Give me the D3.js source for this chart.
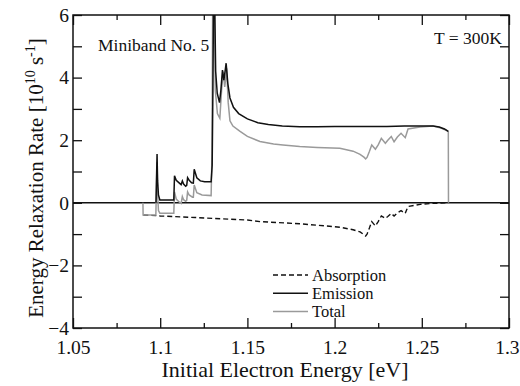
<!DOCTYPE html>
<html><head><meta charset="utf-8">
<script src="https://cdn.jsdelivr.net/npm/d3@7"></script>
<style>
html,body{margin:0;padding:0;background:#fff;}
</style></head>
<body><svg id="c" width="520" height="386"></svg>
<script>
// ---- data (energy in eV, rate in 1e10 s^-1) ----
const xMajorTicks = [1.05, 1.1, 1.15, 1.2, 1.25, 1.3];
const xTickLabels = ["1.05", "1.1", "1.15", "1.2", "1.25", "1.3"];
const xMinorTicks = [1.075, 1.125, 1.175, 1.225, 1.275];
const yMajorTicks = [-4, -2, 0, 2, 4, 6];
const yMinorTicks = [-3, -1, 1, 3, 5];
const legendLabels = ["Absorption", "Emission", "Total"];

const emission = [
[1.0976,0],[1.0979,0.8],[1.0982,1.56],[1.0985,0.7],[1.0990,0.25],[1.0998,0.09],
[1.1078,0.09],[1.1082,0.86],[1.1092,0.72],[1.1110,0.63],[1.1120,0.58],[1.1127,0.70],[1.1134,0.6],
[1.1146,0.53],[1.1152,0.56],[1.1157,0.80],[1.1166,0.72],[1.1180,0.64],[1.1190,0.63],[1.1195,1.07],
[1.1210,0.80],[1.1230,0.70],[1.1255,0.67],[1.1292,0.67],[1.1298,1.2],[1.1302,3.5],[1.1306,6.6],
[1.1312,6.6],[1.1318,4.2],[1.1327,3.5],[1.1340,3.2],[1.1348,3.6],[1.1357,4.24],[1.1365,3.92],
[1.1372,4.2],[1.1378,4.46],[1.1388,3.8],[1.1400,3.35],[1.1420,3.05],[1.1450,2.85],[1.1500,2.68],
[1.1560,2.56],[1.1620,2.50],[1.1700,2.45],[1.1800,2.43],[1.1900,2.43],[1.2000,2.44],[1.2100,2.44],
[1.2200,2.44],[1.2300,2.44],[1.2400,2.45],[1.2500,2.45],[1.2565,2.45],[1.2600,2.42],[1.2630,2.36],[1.2652,2.28]
];

const total = [
[1.0901,0],[1.0902,-0.39],[1.0975,-0.39],[1.0979,0.6],[1.0982,1.3],[1.0986,0.2],[1.0990,-0.25],
[1.0998,-0.33],[1.1078,-0.33],[1.1082,0.35],[1.1092,0.12],[1.1110,0.02],[1.1120,-0.02],[1.1127,0.20],
[1.1134,0.1],[1.1146,0.05],[1.1152,0.08],[1.1157,0.35],[1.1166,0.25],[1.1185,0.18],[1.1190,0.18],
[1.1195,0.57],[1.1210,0.32],[1.1240,0.25],[1.1292,0.23],[1.1297,1.6],[1.1301,6.6],[1.1310,6.6],
[1.1316,3.6],[1.1328,2.85],[1.1342,2.7],[1.1352,3.6],[1.1361,4.19],[1.1370,3.7],[1.1376,4.0],
[1.1381,4.3],[1.1390,3.2],[1.1400,2.62],[1.1417,2.45],[1.1458,2.28],[1.1500,2.12],[1.1572,1.96],
[1.1650,1.88],[1.1704,1.85],[1.1800,1.80],[1.1900,1.77],[1.2030,1.74],[1.2106,1.65],[1.2146,1.55],
[1.2170,1.45],[1.2178,1.40],[1.2186,1.45],[1.2200,1.65],[1.2213,1.85],[1.2234,1.71],[1.2250,1.85],
[1.2268,2.06],[1.2291,1.90],[1.2305,2.0],[1.2325,2.12],[1.2341,1.95],[1.2360,2.1],[1.2381,2.22],
[1.2405,2.08],[1.2412,2.20],[1.2421,2.36],[1.2490,2.42],[1.2564,2.45],[1.2604,2.40],[1.2639,2.32],
[1.2652,2.27],[1.2653,0]
];

const absorption = [
[1.0903,-0.39],[1.0982,-0.41],[1.1000,-0.42],[1.1200,-0.47],[1.1500,-0.55],[1.1572,-0.60],
[1.1800,-0.67],[1.1950,-0.74],[1.2031,-0.78],[1.2106,-0.86],[1.2146,-0.93],[1.2178,-1.06],
[1.2186,-1.0],[1.2200,-0.8],[1.2213,-0.60],[1.2234,-0.74],[1.2250,-0.6],[1.2268,-0.42],
[1.2291,-0.50],[1.2305,-0.44],[1.2325,-0.34],[1.2341,-0.42],[1.2360,-0.32],[1.2381,-0.25],
[1.2405,-0.34],[1.2412,-0.24],[1.2421,-0.12],[1.2490,-0.05],[1.2560,-0.02],[1.2652,0]
];

// ---- layout ----
const FONT = "'Liberation Serif', 'DejaVu Serif', 'Times New Roman', serif";
const svg = d3.select("#c").attr("font-family", FONT);
const L = 73, R = 509, T = 15, B = 328;
const x = d3.scaleLinear().domain([1.05, 1.3]).range([L, R]);
const y = d3.scaleLinear().domain([-4, 6]).range([B, T]);

svg.append("clipPath").attr("id","clip").append("rect")
  .attr("x", L).attr("y", T).attr("width", R - L).attr("height", B - T);

function styleAxis(g){
  g.attr("font-family", FONT);
  g.select(".domain").remove();
  g.selectAll(".tick line").attr("stroke","#111").attr("stroke-width",1.3);
  g.selectAll(".tick text").style("font-family",FONT).style("font-size","19.5px").attr("fill","#111");
}
// bottom
const bottomAxis = svg.append("g").attr("transform",`translate(0,${B})`)
  .call(d3.axisBottom(x).tickValues(xMajorTicks).tickSize(-10).tickPadding(12)
    .tickFormat((d,i)=>xTickLabels[i])).call(styleAxis);
// keep the last label inside the window
bottomAxis.selectAll(".tick text").filter((d,i)=>i===xMajorTicks.length-1)
  .attr("text-anchor","end").attr("x", 519 - R);
svg.append("g").attr("transform",`translate(0,${B})`)
  .call(d3.axisBottom(x).tickValues(xMinorTicks).tickSize(-5).tickFormat("")).call(styleAxis);
// top
svg.append("g").attr("transform",`translate(0,${T})`)
  .call(d3.axisTop(x).tickValues(xMajorTicks).tickSize(-10).tickFormat("")).call(styleAxis);
svg.append("g").attr("transform",`translate(0,${T})`)
  .call(d3.axisTop(x).tickValues(xMinorTicks).tickSize(-5).tickFormat("")).call(styleAxis);
// left
svg.append("g").attr("transform",`translate(${L},0)`)
  .call(d3.axisLeft(y).tickValues(yMajorTicks).tickSize(-9).tickPadding(4)).call(styleAxis);
svg.append("g").attr("transform",`translate(${L},0)`)
  .call(d3.axisLeft(y).tickValues(yMinorTicks).tickSize(-9).tickFormat("")).call(styleAxis);
// right
svg.append("g").attr("transform",`translate(${R},0)`)
  .call(d3.axisRight(y).tickValues(yMajorTicks.concat(yMinorTicks)).tickSize(-9).tickFormat("")).call(styleAxis);

// zero line
svg.append("line").attr("x1",L).attr("x2",R).attr("y1",y(0)).attr("y2",y(0))
  .attr("stroke","#111").attr("stroke-width",1.5);

const line = d3.line().x(d=>x(d[0])).y(d=>y(d[1]));
const plot = svg.append("g").attr("clip-path","url(#clip)");
plot.append("path").datum(absorption).attr("d",line).attr("fill","none")
  .attr("stroke","#111").attr("stroke-width",1.4).attr("stroke-dasharray","5,3");
plot.append("path").datum(total).attr("d",line).attr("fill","none")
  .attr("stroke","#9a9a9a").attr("stroke-width",1.5);
plot.append("path").datum(emission).attr("d",line).attr("fill","none")
  .attr("stroke","#111").attr("stroke-width",1.5);

// frame
svg.append("rect").attr("x",L).attr("y",T).attr("width",R-L).attr("height",B-T)
  .attr("fill","none").attr("stroke","#111").attr("stroke-width",1.5);

function txt(){ return svg.append("text").style("font-family",FONT).attr("fill","#111"); }

// annotations
txt().attr("x",98).attr("y",50.5).style("font-size","17.5px").text("Miniband No. 5");
txt().attr("x",502).attr("y",44).attr("text-anchor","end").style("font-size","17.5px").text("T = 300K");

// legend
const legendStyles = [
  {stroke:"#111", dash:"5,3"},
  {stroke:"#111", dash:null},
  {stroke:"#9a9a9a", dash:null}
];
legendLabels.forEach((lab,i)=>{
  const by = 280.5 + i*18.3;
  svg.append("line").attr("x1",273).attr("x2",308).attr("y1",by-5.5).attr("y2",by-5.5)
    .attr("stroke",legendStyles[i].stroke).attr("stroke-width",1.5)
    .attr("stroke-dasharray",legendStyles[i].dash);
  txt().attr("x",312).attr("y",by).style("font-size","16.5px").text(lab);
});

// axis titles
txt().attr("x",285).attr("y",377).attr("text-anchor","middle")
  .style("font-size","22px").text("Initial Electron Energy [eV]");

const yt = txt().attr("transform","translate(43,178) rotate(-90)")
  .attr("text-anchor","middle").style("font-size","21px");
yt.append("tspan").text("Energy Relaxation Rate [10");
yt.append("tspan").attr("dy",-8).style("font-size","14px").text("10");
yt.append("tspan").attr("dy",8).text(" s");
yt.append("tspan").attr("dy",-8).style("font-size","14px").text("-1");
yt.append("tspan").attr("dy",8).text("]");
</script></body></html>
